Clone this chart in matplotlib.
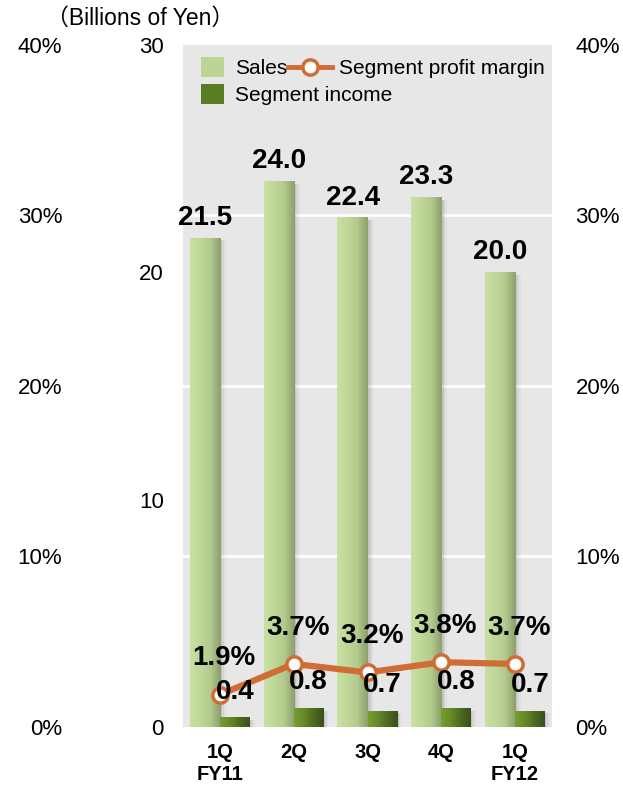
import numpy as np
import matplotlib.pyplot as plt
from matplotlib.colors import LinearSegmentedColormap
from matplotlib.patches import Patch, Rectangle
from matplotlib.lines import Line2D

plt.rcParams['font.family'] = ['Liberation Sans', 'Noto Sans CJK JP', 'DejaVu Sans']

quarters = ['1Q\nFY11', '2Q', '3Q', '4Q', '1Q\nFY12']
sales = [21.5, 24.0, 22.4, 23.3, 20.0]
segment_income = [0.4, 0.8, 0.7, 0.8, 0.7]
profit_margin = [1.9, 3.7, 3.2, 3.8, 3.7]

bg = '#e7e7e7'
line_color = '#cf6d35'
sales_cmap = LinearSegmentedColormap.from_list('sales', ['#c9e0a3', '#bfd898', '#b2ca8c', '#8c9f6c'])
income_cmap = LinearSegmentedColormap.from_list('income', ['#759f30', '#658a28', '#4c6a20', '#3a5018'])

fig = plt.figure(figsize=(6.23, 7.88), dpi=100)
ax = fig.add_axes([0.294, 0.0774, 0.592, 0.8656])
ax.set_facecolor(bg)

x = np.arange(len(quarters))
sales_w = 0.42
income_w = 0.40
grad = np.linspace(0, 1, 64).reshape(1, -1)


def gradient_bar(ax, left, width, height, cmap):
    # soft shadow to the right of the bar
    for i, a in enumerate([0.10, 0.07, 0.04]):
        off = 0.02 + 0.025 * i
        ax.add_patch(Rectangle((left + off, 0), width, height - 0.1,
                               facecolor='#404040', alpha=a, lw=0, zorder=2))
    ax.imshow(grad, cmap=cmap, extent=[left, left + width, 0, height],
              aspect='auto', zorder=3, interpolation='bicubic')


# white gridlines behind the bars, at the percent ticks
for v in [10, 20, 30]:
    ax.axhline(v * 30 / 40, color='white', lw=2, zorder=1)

for i in range(len(quarters)):
    gradient_bar(ax, x[i] - 0.2 - sales_w / 2, sales_w, sales[i], sales_cmap)
    gradient_bar(ax, x[i] + 0.2 - income_w / 2, income_w, segment_income[i], income_cmap)

ax.set_xlim(-0.5, len(quarters) - 0.5)
ax.set_ylim(0, 30)
ax.set_xticks(x)
ax.set_xticklabels(quarters, fontsize=14.5, fontweight='bold', linespacing=1.2)
ax.set_yticks([0, 10, 20, 30])
ax.tick_params(axis='y', length=0, labelsize=16, pad=14)
ax.tick_params(axis='x', length=0, pad=11.5)
for s in ax.spines.values():
    s.set_visible(False)

# percent axis on the right, carrying the margin line
ax2 = ax.twinx()
ax2.set_ylim(0, 40)
ax2.set_yticks([0, 10, 20, 30, 40])
ax2.set_yticklabels(['0%', '10%', '20%', '30%', '40%'])
ax2.tick_params(axis='y', length=0, labelsize=16, pad=17)
for s in ax2.spines.values():
    s.set_visible(False)
ax2.patch.set_visible(False)

# percent axis repeated on the far left
ax3 = ax.twinx()
ax3.set_ylim(0, 40)
ax3.yaxis.tick_left()
ax3.set_yticks([0, 10, 20, 30, 40])
ax3.set_yticklabels(['0%', '10%', '20%', '30%', '40%'])
ax3.tick_params(axis='y', length=0, labelsize=16, pad=87)
for s in ax3.spines.values():
    s.set_visible(False)
ax3.patch.set_visible(False)

ax2.plot(x, profit_margin, color=line_color, lw=4.5, marker='o', ms=11,
         mfc='white', mec=line_color, mew=2.5, zorder=5)

# value labels sit on top of the line
for i in range(len(quarters)):
    ax2.annotate(f'{sales[i]:.1f}', (x[i] - 0.2, sales[i]), xycoords=ax.transData,
                 xytext=(0, 5), textcoords='offset points', ha='center', va='bottom',
                 fontsize=20, fontweight='bold', zorder=6)
    ax2.annotate(f'{segment_income[i]:.1f}', (x[i] + 0.2, segment_income[i]),
                 xycoords=ax.transData, xytext=(0, 19), textcoords='offset points',
                 ha='center', va='center', fontsize=20, fontweight='bold', zorder=6)
    ax2.annotate(f'{profit_margin[i]:.1f}%', (x[i], profit_margin[i]), xytext=(3, 26),
                 textcoords='offset points', ha='center', va='center',
                 fontsize=20, fontweight='bold', zorder=6)

bar_handles = [Patch(facecolor='#bcd495', edgecolor='none'),
               Patch(facecolor='#5a7d24', edgecolor='none')]
leg1 = ax2.legend(bar_handles, ['Sales', 'Segment income'], loc='upper left',
                  bbox_to_anchor=(201 / 623, 1 - 57 / 788), bbox_transform=fig.transFigure,
                  borderpad=0, borderaxespad=0, frameon=False, fontsize=15,
                  handlelength=1.1, handleheight=1.1, handletextpad=0.55, labelspacing=0.3)
ax2.add_artist(leg1)

line_handle = Line2D([], [], color=line_color, lw=3.5, marker='o', ms=11,
                     mfc='white', mec=line_color, mew=2.5)
ax2.legend([line_handle], ['Segment profit margin'], loc='center left',
           bbox_to_anchor=(288 / 623, 1 - 69 / 788), bbox_transform=fig.transFigure,
           borderpad=0, borderaxespad=0, frameon=False, fontsize=15,
           handlelength=2.1, handletextpad=0.35)

fig.text(140 / 623, 1 - 18 / 788, '（Billions of Yen）', fontsize=16.5, ha='center', va='center')

fig.savefig('out.png', dpi=100)
